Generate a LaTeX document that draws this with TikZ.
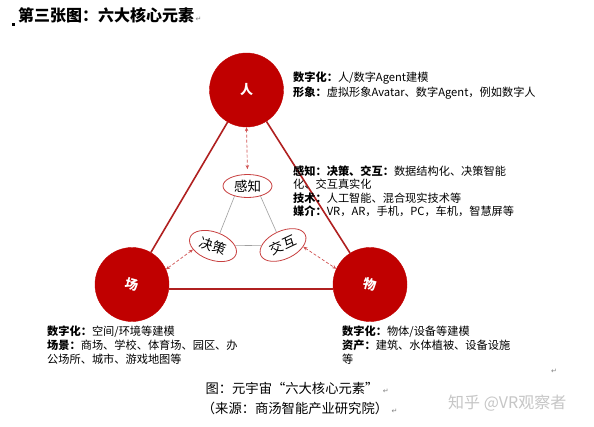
\documentclass[tikz,border=0pt]{standalone}
\usepackage{fontspec}
\setmainfont{Noto Sans CJK SC}
\newfontfamily\djv{DejaVu Sans}
\usetikzlibrary{shapes.geometric,arrows.meta}
\definecolor{cred}{HTML}{C00000}
\definecolor{tline}{HTML}{B02020}
\definecolor{eline}{HTML}{C84040}
\definecolor{dred}{HTML}{D05050}
\begin{document}
\begin{tikzpicture}[x=1pt,y=-1pt,
  big/.style={circle,fill=cred,draw=cred,minimum size=74pt,inner sep=0pt,text=white,font=\fontsize{13}{13}\selectfont\bfseries},
  tri/.style={draw=tline,line width=1.6pt},
  inner/.style={ellipse,draw=eline,line width=0.8pt,fill=white,inner sep=0pt,font=\fontsize{13.5}{14}\selectfont},
  glink/.style={draw=gray!75,line width=0.6pt},
  dlink/.style={draw=dred,densely dashed,line width=0.7pt,{Stealth[length=4pt,width=3.5pt]}-{Stealth[length=4pt,width=3.5pt]}},
  txt/.style={anchor=base west,inner sep=0pt,font=\fontsize{11.2}{13}\selectfont},
  captxt/.style={anchor=base,inner sep=0pt,font=\fontsize{13.3}{14}\selectfont},
  pmark/.style={text=gray,inner sep=0pt,font=\djv\fontsize{7}{7}\selectfont}
]
\useasboundingbox[fill=white] (0,0) rectangle (594,426);

% title
\node[fill=black,minimum size=3pt,inner sep=0pt] (bullet) at (13.5,24.5) {};
\node[anchor=base west,inner sep=0pt,font=\fontsize{16}{16}\selectfont\bfseries] (title) at (18,21) {第三张图：六大核心元素};
\node[pmark,anchor=base west] (pm0) at ([xshift=1pt]title.base east) {↵};

% big circles
\node[big] (ren) at (246.5,90) {人};
\node[big] (chang) at (132,284.5) {\rotatebox{-15}{场}};
\node[big] (wu) at (370,284.5) {\rotatebox{-15}{物}};

% triangle
\draw[tri] (ren) -- (chang);
\draw[tri] (ren) -- (wu);
\draw[tri] (chang.-7) -- (wu.187);

% inner ellipses
\node[inner,minimum width=49pt,minimum height=23pt] (gz) at (247.5,186) {感知};
\node[inner,minimum width=49pt,minimum height=28pt,rotate=-20] (jc) at (213,246) {决策};
\node[inner,minimum width=49pt,minimum height=28pt,rotate=25] (jh) at (283,245) {交互};

\draw[glink] (gz.218) -- (jc.82);
\draw[glink] (gz.-38) -- (jh.92);
\draw[glink] (jc) -- (jh);

% dashed arrows
\draw[dlink,shorten >=5pt] (ren.south) -- (gz.north);
\draw[dlink] (jc.210) -- (chang.24);
\draw[dlink] (jh.-30) -- (wu.155);

% text blocks
\node[txt] (t1a) at (293,81) {{\bfseries 数字化：}人/数字Agent建模};
\node[txt] (t1b) at (293,96) {{\bfseries 形象：}虚拟形象Avatar、数字Agent，例如数字人};

\node[txt] (t2a) at (293,175) {{\bfseries 感知：决策、交互：}数据结构化、决策智能};
\node[txt] (t2b) at (293,188.5) {化、交互真实化};
\node[txt] (t2c) at (293,202) {{\bfseries 技术：}人工智能、混合现实技术等};
\node[txt] (t2d) at (293,215.5) {{\bfseries 媒介：}VR，AR，手机，PC，车机，智慧屏等};

\node[txt] (t3a) at (47,335) {{\bfseries 数字化：}空间/环境等建模};
\node[txt] (t3b) at (47,349) {{\bfseries 场景：}商场、学校、体育场、园区、办};
\node[txt] (t3c) at (47,363) {公场所、城市、游戏地图等};

\node[txt] (t4a) at (342,335) {{\bfseries 数字化：}物体/设备等建模};
\node[txt] (t4b) at (342,349) {{\bfseries 资产：}建筑、水体植被、设备设施};
\node[txt] (t4c) at (342,363) {等};

\node[pmark,anchor=base] (pm1) at (554,373) {↵};

% caption
\node[captxt] (cap1) at (292,393) {图：元宇宙“六大核心元素”};
\node[captxt] (cap2) at (295,413) {（来源：商汤智能产业研究院）};
\node[pmark,anchor=base west] (pm2) at ([xshift=4pt]cap1.base east) {↵};
\node[pmark,anchor=base west] (pm3) at ([xshift=3pt]cap2.base east) {↵};

% watermark
\node[anchor=base west,inner sep=0pt,text=gray!45,font=\fontsize{16}{16}\selectfont] (wm) at (448,408) {知乎 @VR观察者};
\end{tikzpicture}
\end{document}
